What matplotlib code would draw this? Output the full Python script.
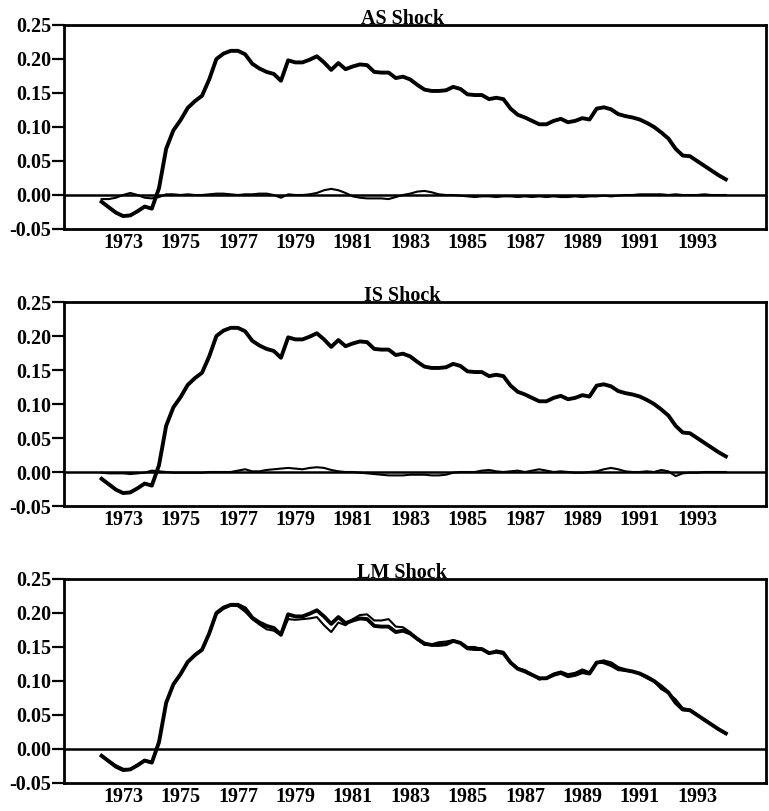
import numpy as np
import pandas as pd
import matplotlib
matplotlib.use('Agg')
import matplotlib.pyplot as plt

plt.rcParams['font.family'] = ['Liberation Serif', 'DejaVu Serif']

# quarterly sample 1972Q2 - 1994Q1
quarters = pd.period_range('1972Q2', '1994Q1', freq='Q')
t = quarters.year + (quarters.quarter - 1) / 4.0

# actual series (thick line, same in every panel)
actual = [
    -0.010, -0.018, -0.026,
    -0.031, -0.030, -0.024, -0.017,
    -0.020, 0.010, 0.068, 0.095,
    0.110, 0.128, 0.138, 0.146,
    0.170, 0.200, 0.208, 0.212,
    0.212, 0.207, 0.193, 0.186,
    0.181, 0.178, 0.168, 0.198,
    0.195, 0.195, 0.199, 0.204,
    0.195, 0.184, 0.194, 0.185,
    0.189, 0.192, 0.191, 0.181,
    0.180, 0.180, 0.172, 0.174,
    0.170, 0.162, 0.155, 0.153,
    0.153, 0.154, 0.159, 0.156,
    0.148, 0.147, 0.147, 0.141,
    0.143, 0.141, 0.127, 0.118,
    0.114, 0.109, 0.104, 0.104,
    0.109, 0.112, 0.107, 0.109,
    0.113, 0.111, 0.127, 0.129,
    0.126, 0.119, 0.116, 0.114,
    0.111, 0.106, 0.100, 0.092,
    0.083, 0.068, 0.058, 0.057,
    0.050, 0.043, 0.036, 0.029,
    0.023,
]

# contribution of each shock (thin line)
as_shock = [
    -0.006, -0.006, -0.004,
    0.000, 0.003, 0.000, -0.004,
    -0.005, -0.003, 0.001, 0.001,
    0.000, 0.001, 0.000, 0.000,
    0.001, 0.002, 0.002, 0.001,
    0.000, 0.001, 0.001, 0.002,
    0.002, 0.000, -0.004, 0.001,
    0.000, 0.000, 0.001, 0.003,
    0.007, 0.009, 0.007, 0.003,
    -0.002, -0.004, -0.005, -0.005,
    -0.005, -0.006, -0.003, 0.000,
    0.002, 0.005, 0.006, 0.004,
    0.001, 0.000, 0.000, -0.001,
    -0.002, -0.003, -0.002, -0.002,
    -0.003, -0.002, -0.002, -0.003,
    -0.002, -0.003, -0.002, -0.003,
    -0.002, -0.003, -0.003, -0.002,
    -0.003, -0.002, -0.002, -0.001,
    -0.002, -0.001, 0.000, 0.000,
    0.001, 0.001, 0.001, 0.001,
    0.000, 0.001, 0.000, 0.000,
    0.000, 0.001, 0.000, 0.000,
    0.000,
]

is_shock = [
    -0.001, -0.002, -0.002,
    -0.002, -0.003, -0.002, -0.001,
    0.002, 0.001, 0.000, -0.001,
    -0.001, -0.001, -0.001, -0.001,
    0.000, 0.000, 0.000, 0.000,
    0.002, 0.004, 0.001, 0.001,
    0.003, 0.004, 0.005, 0.006,
    0.005, 0.004, 0.006, 0.007,
    0.006, 0.003, 0.001, 0.000,
    0.000, -0.001, -0.002, -0.003,
    -0.004, -0.005, -0.005, -0.005,
    -0.004, -0.004, -0.004, -0.005,
    -0.005, -0.004, -0.001, 0.000,
    0.000, 0.000, 0.002, 0.003,
    0.001, 0.000, 0.001, 0.002,
    0.000, 0.002, 0.004, 0.002,
    0.000, 0.001, 0.000, -0.001,
    -0.001, 0.000, 0.001, 0.004,
    0.006, 0.004, 0.001, 0.000,
    0.000, 0.001, 0.000, 0.003,
    0.001, -0.006, -0.002, -0.001,
    -0.001, 0.000, 0.000, 0.000,
    0.000,
]

lm_shock = [
    -0.009, -0.017, -0.024,
    -0.029, -0.030, -0.023, -0.016,
    -0.019, 0.012, 0.069, 0.095,
    0.111, 0.128, 0.139, 0.147,
    0.169, 0.198, 0.206, 0.211,
    0.210, 0.202, 0.191, 0.183,
    0.176, 0.174, 0.167, 0.191,
    0.190, 0.191, 0.192, 0.194,
    0.182, 0.172, 0.186, 0.182,
    0.191, 0.197, 0.198, 0.189,
    0.189, 0.191, 0.180, 0.179,
    0.172, 0.161, 0.153, 0.154,
    0.157, 0.158, 0.160, 0.157,
    0.150, 0.150, 0.147, 0.140,
    0.145, 0.143, 0.128, 0.119,
    0.116, 0.110, 0.102, 0.105,
    0.111, 0.114, 0.110, 0.112,
    0.117, 0.113, 0.128, 0.126,
    0.122, 0.116, 0.115, 0.114,
    0.110, 0.104, 0.099, 0.088,
    0.082, 0.073, 0.060, 0.058,
    0.051, 0.042, 0.036, 0.029,
    0.023,
]

titles = ['AS Shock', 'IS Shock', 'LM Shock']
shocks = [as_shock, is_shock, lm_shock]
year_ticks = list(range(1973, 1995, 2))
y_ticks = [-0.05, 0.00, 0.05, 0.10, 0.15, 0.20, 0.25]

fig = plt.figure(figsize=(7.69, 8.11), dpi=100)
W, H = 769, 811
# panel boxes in pixels: (left, top, right, bottom)
boxes = [(64, 25, 766, 229), (64, 302, 766, 506), (64, 579, 766, 783)]

for title, shock, (l, tp, r, b) in zip(titles, shocks, boxes):
    ax = fig.add_axes([l / W, 1 - b / H, (r - l) / W, (b - tp) / H])
    ax.axhline(0, color='black', lw=1.8, zorder=1)
    ax.plot(t, shock, color='black', lw=1.5, zorder=2)
    ax.plot(t, actual, color='black', lw=2.8, zorder=3, solid_joinstyle='round')
    ax.set_xlim(1970.94, 1995.40)
    ax.set_ylim(-0.05, 0.25)
    ax.set_yticks(y_ticks)
    ax.set_yticklabels(['%.2f' % v for v in y_ticks])
    ax.set_xticks(year_ticks)
    ax.set_xticklabels([str(y) for y in year_ticks])
    ax.tick_params(axis='y', direction='out', length=9, width=1.6, pad=0,
                   labelsize=14.5)
    ax.tick_params(axis='x', length=0, pad=3, labelsize=14.5)
    for lab in ax.get_xticklabels() + ax.get_yticklabels():
        lab.set_fontweight('bold')
    for sp in ax.spines.values():
        sp.set_linewidth(2.0)
    ax.text(0.482, 1.004, title, transform=ax.transAxes, ha='center',
            va='baseline', fontsize=14.5, fontweight='bold')

fig.savefig('out.png', dpi=100)
